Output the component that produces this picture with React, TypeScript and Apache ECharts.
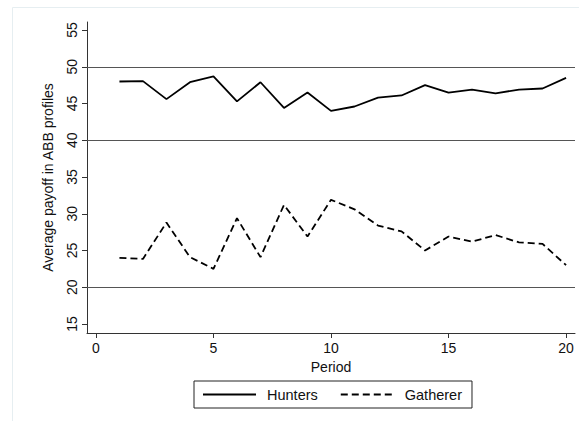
import React, { useEffect, useRef } from "react";
import * as echarts from "echarts";

const periods = [1, 2, 3, 4, 5, 6, 7, 8, 9, 10, 11, 12, 13, 14, 15, 16, 17, 18, 19, 20];
const hunters = [48.0, 48.05, 45.6, 47.9, 48.7, 45.3, 47.9, 44.4, 46.5, 44.0, 44.6, 45.8, 46.1, 47.5, 46.5, 46.9, 46.4, 46.9, 47.05, 48.5];
const gatherer = [24.0, 23.85, 28.8, 24.1, 22.5, 29.4, 24.1, 31.2, 26.9, 31.9, 30.6, 28.4, 27.6, 25.0, 26.9, 26.2, 27.1, 26.1, 25.9, 23.0];
const xTicks = [0, 5, 10, 15, 20];
const yTicks = [15, 20, 25, 30, 35, 40, 45, 50, 55];
const refLines = [20, 40, 50];

const FONT = "Liberation Sans, Arial, sans-serif";

export default function App() {
  const ref = useRef<HTMLDivElement>(null);
  useEffect(() => {
    if (!ref.current) return;
    const chart = echarts.init(ref.current, undefined, { renderer: "svg" });
    const axisColor = "#333";
    chart.setOption({
      animation: false,
      backgroundColor: "#fff",
      textStyle: { fontFamily: FONT },
      graphic: [
        {
          type: "rect",
          shape: { x: 12.5, y: 7.5, width: 700, height: 600 },
          style: { fill: "none", stroke: "#e6eef1", lineWidth: 1 },
          silent: true,
          z: -10,
        },
      ],
      grid: { left: 87, top: 22, right: 4, bottom: 88, containLabel: false },
      xAxis: {
        type: "value",
        min: -0.38,
        max: 20.38,
        name: "Period",
        nameLocation: "middle",
        nameGap: 25,
        nameTextStyle: { fontSize: 14, color: "#111", fontFamily: FONT },
        axisLine: { show: true, onZero: false, lineStyle: { color: axisColor, width: 1 } },
        axisTick: { show: true, length: 5, customValues: xTicks, lineStyle: { color: axisColor } },
        axisLabel: { customValues: xTicks, fontSize: 14, color: "#111", margin: 8, fontFamily: FONT },
        splitLine: { show: false },
      },
      yAxis: {
        type: "value",
        min: 13.77,
        max: 56.1,
        name: "Average payoff in ABB profiles",
        nameLocation: "middle",
        nameGap: 32,
        nameTextStyle: { fontSize: 14, color: "#111", fontFamily: FONT },
        axisLine: { show: true, onZero: false, lineStyle: { color: axisColor, width: 1 } },
        axisTick: { show: true, length: 5, customValues: yTicks, lineStyle: { color: axisColor } },
        axisLabel: { customValues: yTicks, fontSize: 14, color: "#111", rotate: 90, margin: 8, fontFamily: FONT },
        splitLine: { show: false },
      },
      legend: {
        left: 194,
        top: 381,
        orient: "horizontal",
        itemWidth: 53,
        itemHeight: 14,
        itemGap: 22,
        padding: [6, 10, 6, 8],
        borderColor: "#222",
        borderWidth: 1,
        itemStyle: { opacity: 0 },
        textStyle: { fontSize: 14.5, color: "#111", fontFamily: FONT, padding: [0, 0, 0, 6] },
        data: ["Hunters", "Gatherer"],
      },
      series: [
        {
          name: "Hunters",
          type: "line",
          data: periods.map((p, i) => [p, hunters[i]]),
          symbol: "none",
          lineStyle: { color: "#000", width: 1.8, type: "solid" },
          itemStyle: { color: "#000" },
          markLine: {
            silent: true,
            symbol: "none",
            label: { show: false },
            lineStyle: { color: "#555", width: 1, type: "solid" },
            data: refLines.map((v) => ({ yAxis: v })),
          },
        },
        {
          name: "Gatherer",
          type: "line",
          data: periods.map((p, i) => [p, gatherer[i]]),
          symbol: "none",
          lineStyle: { color: "#000", width: 1.8, type: [7, 4] },
          itemStyle: { color: "#000" },
        },
      ],
    });
    return () => chart.dispose();
  }, []);
  return (
    <div
      ref={ref}
      style={{ position: "absolute", left: 0, top: 0, width: 579, height: 421 }}
    />
  );
}
